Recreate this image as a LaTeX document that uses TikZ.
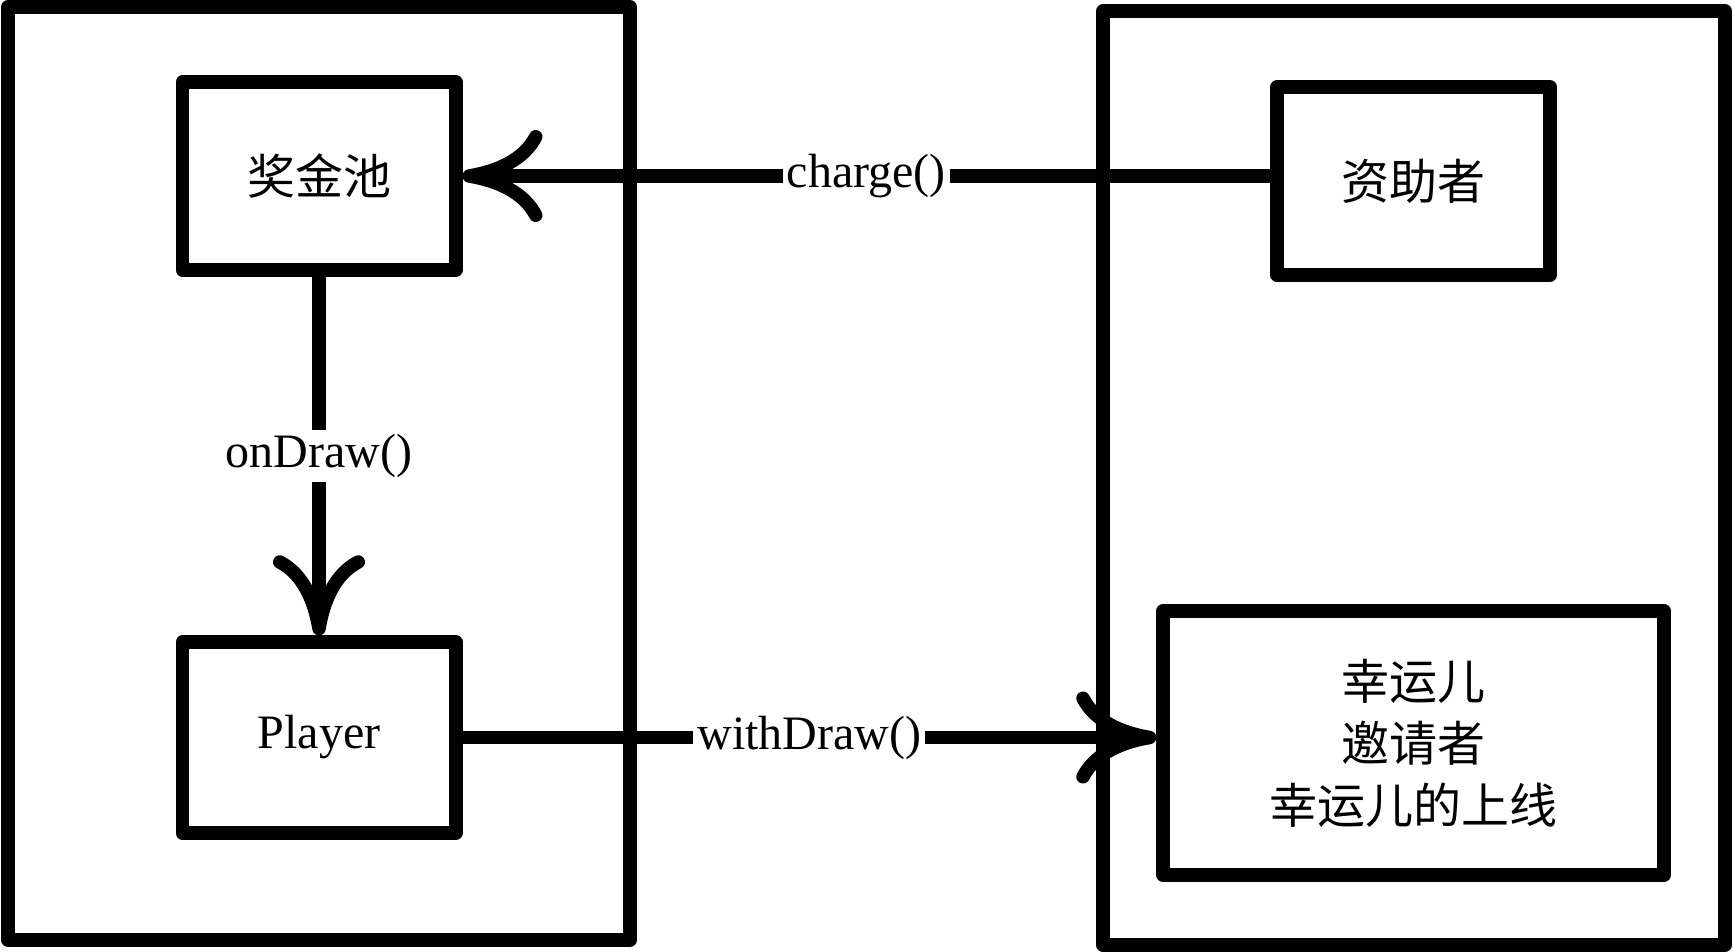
\documentclass[tikz,border=0pt]{standalone}
\usepackage{fontspec}
\setmainfont{Liberation Serif}
\newfontfamily\cjk{Noto Sans CJK SC}
\usetikzlibrary{arrows.meta}
\begin{document}
\begin{tikzpicture}[x=0.5pt,y=-0.5pt,
  every node/.style={font=\fontsize{24}{31}\selectfont},
  box/.style={draw, line width=6.75pt, line join=round, inner sep=0pt, align=center},
  panel/.style={draw, line width=6.75pt, line join=round, inner sep=0pt},
  conn/.style={line width=6.75pt, line cap=round, -{Computer Modern Rightarrow[length=40pt,width=46pt]}},
  lbl/.style={fill=white, inner sep=2pt}]
\useasboundingbox (0,0) rectangle (1733,952);
\node[panel, minimum width=311pt, minimum height=466.5pt] (leftpanel) at (319,473.5) {};
\node[panel, minimum width=311pt, minimum height=467pt] (rightpanel) at (1414,478) {};
\node[box, minimum width=136.75pt, minimum height=93.75pt] (pool) at (319,176) {\cjk 奖金池};
\node[box, minimum width=136.75pt, minimum height=95.5pt] (player) at (319,737.5) {Player};
\node[box, minimum width=136.5pt, minimum height=94pt] (sponsor) at (1413.5,181) {\cjk 资助者};
\node[box, minimum width=250.5pt, minimum height=132pt] (lucky) at (1413.5,743) {\cjk 幸运儿\\\cjk 邀请者\\\cjk 幸运儿的上线};
\draw[conn] (sponsor.west |- pool.east) -- node[lbl] {charge()} (pool.east);
\draw[conn] (pool.south) -- node[lbl] {onDraw()} (player.north);
\draw[conn] (player.east) -- node[lbl] {withDraw()} (player.east -| lucky.west);
\end{tikzpicture}
\end{document}
